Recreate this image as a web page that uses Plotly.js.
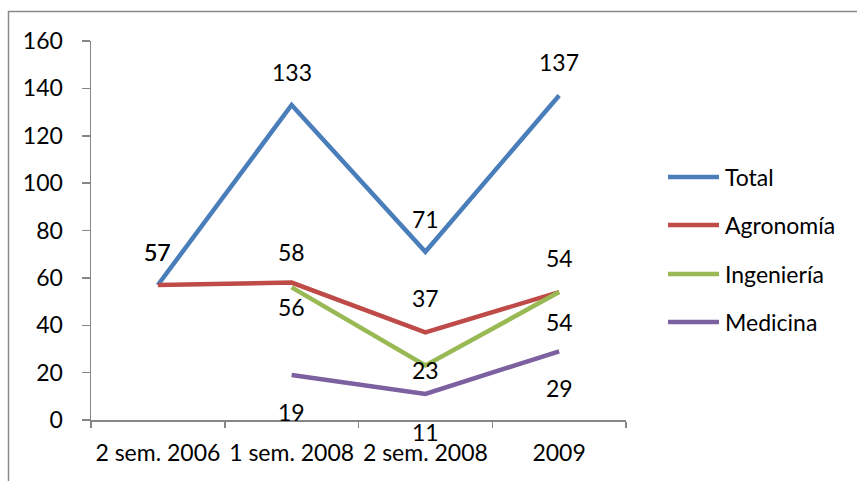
<!DOCTYPE html>
<html>
<head>
<meta charset="utf-8">
<script src="https://cdn.plot.ly/plotly-3.0.1.min.js"></script>
<style>
  html, body { margin: 0; padding: 0; background: #fff; }
  #chart { width: 857px; height: 481px; }
</style>
</head>
<body>
<div id="chart"></div>
<script>
// ---- data ----
const categories = ["2 sem. 2006", "1 sem. 2008", "2 sem. 2008", "2009"];
const seriesNames = ["Total", "Agronomía", "Ingeniería", "Medicina"];
const total      = [57, 133, 71, 137];
const agronomia  = [57, 58, 37, 54];
const ingenieria = [null, 56, 23, 54];
const medicina   = [null, 19, 11, 29];
const yTicks = [0, 20, 40, 60, 80, 100, 120, 140, 160];

// ---- style ----
const colors = ["#4A7EBB", "#BE4B48", "#98B954", "#7D60A0"];
const labelShift = [
  [33, 33, 33, 33],
  [33, 31, 34, 34],
  [0, -20, -4, -30],
  [0, -37, -38, -37]
];
const FONT = "Lato, 'Open Sans', sans-serif";
const FS = 23;

const allSeries = [total, agronomia, ingenieria, medicina];

const traces = allSeries.map((vals, i) => ({
  type: "scatter",
  mode: "lines",
  name: seriesNames[i],
  x: categories,
  y: vals,
  line: { color: colors[i], width: 4.5 },
  hoverinfo: "skip",
  showlegend: false
}));

const annotations = [];
allSeries.forEach((vals, i) => {
  vals.forEach((v, j) => {
    if (v === null) return;
    annotations.push({
      x: j, y: v, xref: "x", yref: "y",
      text: String(v), showarrow: false,
      yshift: labelShift[i][j],
      font: { family: FONT, size: FS, color: "#000" }
    });
  });
});

// manual legend
const L = 91, T = 41, PW = 535, PH = 379;
const px2x = p => (p - L) / PW;
const py2y = p => (T + PH - p) / PH;
const legendY = [177, 225, 274, 322];
const shapes = [];
seriesNames.forEach((name, i) => {
  shapes.push({
    type: "line", xref: "paper", yref: "paper",
    x0: px2x(668), x1: px2x(719), y0: py2y(legendY[i]), y1: py2y(legendY[i]),
    line: { color: colors[i], width: 4.5 }
  });
  annotations.push({
    xref: "paper", yref: "paper", x: px2x(723), y: py2y(legendY[i]),
    xanchor: "left", yanchor: "middle", showarrow: false,
    text: name, font: { family: FONT, size: FS, color: "#000" }
  });
});
// chart border (top + left visible)
shapes.push({
  type: "rect", xref: "paper", yref: "paper",
  x0: px2x(8.5), x1: px2x(880), y0: py2y(500), y1: py2y(11.5),
  line: { color: "#8A8A8A", width: 1.5 }, fillcolor: "rgba(0,0,0,0)"
});

const layout = {
  width: 857, height: 481,
  margin: { l: L, r: 857 - L - PW, t: T, b: 481 - T - PH, pad: 0 },
  paper_bgcolor: "#fff", plot_bgcolor: "#fff",
  showlegend: false,
  font: { family: FONT, size: FS, color: "#000" },
  xaxis: {
    type: "category", range: [-0.5, 3.5],
    showline: true, linecolor: "#868686", linewidth: 1.5,
    ticks: "outside", ticklen: 6, tickcolor: "#868686", tickwidth: 1.5,
    tickson: "boundaries", showgrid: false, zeroline: false,
    tickangle: 0, automargin: false,
    ticklabelstandoff: 12,
    tickfont: { family: FONT, size: FS, color: "#000" }
  },
  yaxis: {
    range: [0, 160], tickvals: yTicks,
    showline: true, linecolor: "#868686", linewidth: 1.5,
    ticks: "outside", ticklen: 8, tickcolor: "#868686", tickwidth: 1.5,
    showgrid: false, zeroline: false,
    ticklabelstandoff: 14,
    tickfont: { family: FONT, size: FS, color: "#000" }
  },
  annotations: annotations,
  shapes: shapes
};

Plotly.newPlot("chart", traces, layout, { staticPlot: true, displayModeBar: false });
</script>
</body>
</html>
